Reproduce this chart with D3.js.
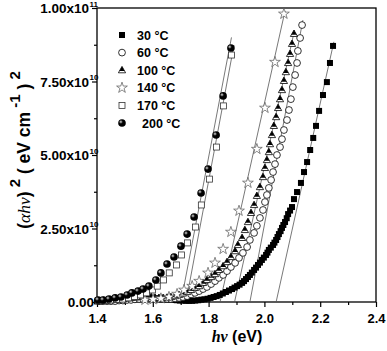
<!DOCTYPE html>
<html>
<head>
<meta charset="utf-8">
<script src="https://cdn.jsdelivr.net/npm/d3@7"></script>
<style>
  body { margin: 0; background: #fff; }
  text { font-family: "Liberation Sans", Arial, sans-serif; font-weight: bold; fill: #000; }
</style>
</head>
<body>
<div id="chart"></div>
<script>
// values, y in units of 1e10 (eV cm^-1)^2
var UNIT = 1e10

var hv30 = [1.400,1.411,1.422,1.433,1.444,1.455,1.466,1.477,1.488,1.499,1.510,1.521,1.532,1.543,1.554,1.565,1.576,1.587,1.598,1.609,1.620,1.631,1.642,1.653,1.664,1.675,1.686,1.697,1.708,1.719,1.730,1.741,1.752,1.763,1.774,1.785,1.796,1.807,1.818,1.829,1.840,1.851,1.862,1.873,1.884,1.893,1.902,1.911,1.920,1.927,1.934,1.941,1.948,1.955,1.963,1.970,1.977,1.984,1.991,1.998,2.006,2.011,2.016,2.023,2.031,2.036,2.042,2.047,2.052,2.058,2.063,2.068,2.074,2.080,2.085,2.092,2.099,2.106,2.117,2.131,2.142,2.153,2.164,2.175,2.185,2.196,2.210,2.224,2.235,2.246]
var a30  = [0.02,0.02,0.03,0.03,0.03,0.03,0.04,0.04,0.05,0.06,0.07,0.08,0.09,0.10,0.11,0.12,0.12,0.12,0.12,0.11,0.10,0.09,0.09,0.08,0.08,0.07,0.06,0.05,0.05,0.04,0.04,0.04,0.05,0.06,0.08,0.09,0.11,0.14,0.17,0.20,0.24,0.29,0.34,0.39,0.44,0.49,0.54,0.59,0.65,0.71,0.78,0.85,0.92,1.00,1.09,1.17,1.26,1.34,1.43,1.51,1.60,1.68,1.77,1.85,1.94,2.02,2.11,2.21,2.31,2.41,2.52,2.62,2.72,2.85,2.99,3.11,3.23,3.50,3.74,4.05,4.42,4.76,5.17,5.58,5.99,6.50,7.04,7.48,8.13,8.71]

var hv60 = [1.407,1.422,1.436,1.450,1.465,1.479,1.493,1.508,1.522,1.536,1.551,1.565,1.579,1.594,1.608,1.622,1.637,1.651,1.665,1.680,1.694,1.708,1.723,1.737,1.751,1.766,1.780,1.794,1.809,1.823,1.837,1.852,1.866,1.880,1.895,1.909,1.923,1.938,1.948,1.963,1.973,1.984,1.995,2.002,2.009,2.016,2.024,2.031,2.038,2.045,2.056,2.063,2.070,2.081,2.088,2.095,2.102,2.110,2.117,2.120,2.128,2.135]
var a60  = [0.03,0.03,0.03,0.03,0.03,0.05,0.05,0.07,0.07,0.09,0.10,0.10,0.12,0.12,0.12,0.12,0.10,0.10,0.10,0.12,0.14,0.17,0.20,0.26,0.31,0.37,0.44,0.51,0.61,0.71,0.82,0.92,1.05,1.19,1.33,1.50,1.67,1.87,2.11,2.35,2.59,2.86,3.13,3.40,3.64,3.88,4.15,4.42,4.69,5.00,5.27,5.54,5.85,6.19,6.53,6.90,7.31,7.72,8.13,8.54,8.98,9.42]

var hv100 = [1.407,1.422,1.436,1.450,1.465,1.479,1.493,1.508,1.522,1.536,1.551,1.565,1.579,1.594,1.608,1.622,1.637,1.651,1.665,1.680,1.694,1.708,1.723,1.737,1.751,1.766,1.780,1.794,1.809,1.823,1.837,1.852,1.866,1.880,1.895,1.905,1.920,1.930,1.941,1.952,1.963,1.973,1.984,1.995,2.002,2.009,2.016,2.020,2.027,2.034,2.042,2.049,2.056,2.063,2.070,2.077,2.085,2.092,2.099,2.106]
var a100  = [0.03,0.05,0.05,0.07,0.07,0.09,0.10,0.12,0.14,0.15,0.17,0.19,0.19,0.17,0.15,0.14,0.14,0.15,0.17,0.20,0.24,0.29,0.34,0.41,0.48,0.54,0.65,0.75,0.85,0.95,1.09,1.22,1.36,1.53,1.73,1.94,2.18,2.45,2.72,3.03,3.30,3.61,3.91,4.25,4.56,4.83,5.10,5.37,5.68,5.99,6.29,6.60,6.90,7.21,7.52,7.82,8.13,8.44,8.78,9.12]

var hv140 = [1.572,1.601,1.629,1.658,1.687,1.712,1.741,1.766,1.798,1.823,1.852,1.880,1.909,1.941,1.973,2.002,2.038,2.070]
var a140  = [0.07,0.09,0.12,0.17,0.27,0.41,0.54,0.71,0.99,1.33,1.80,2.38,3.10,4.05,5.20,6.60,8.16,9.80]

var hv170 = [1.404,1.425,1.448,1.470,1.491,1.513,1.534,1.556,1.577,1.599,1.616,1.638,1.659,1.685,1.703,1.724,1.753,1.774,1.803,1.828,1.853,1.882]
var a170  = [0.05,0.06,0.07,0.09,0.10,0.14,0.19,0.24,0.31,0.41,0.54,0.75,0.99,1.26,1.60,2.01,2.55,3.30,4.18,5.27,6.67,8.40]

var hv200 = [1.404,1.422,1.443,1.465,1.486,1.508,1.525,1.547,1.565,1.586,1.611,1.629,1.651,1.676,1.701,1.723,1.748,1.773,1.798,1.827,1.852,1.880]
var a200  = [0.07,0.07,0.10,0.14,0.17,0.24,0.31,0.37,0.44,0.54,0.75,0.99,1.29,1.53,1.90,2.31,2.89,3.71,4.52,5.68,7.01,8.64]

// linear fits: x-intercept and upper end
var fitX0 = [2.042, 1.948, 1.893, 1.841, 1.719, 1.701]
var fitX1 = [2.249, 2.138, 2.108, 2.074, 1.891, 1.882]
var fitY1 = [8.85, 9.59, 9.25, 9.90, 8.74, 9.00]

var seriesNames = ["30 °C", "60 °C", "100 °C", "140 °C", "170 °C", "200 °C"]
var markerTypes = ["fsquare", "ocircle", "htri", "ostar", "osquare", "sphere"]
var seriesX = [hv30, hv60, hv100, hv140, hv170, hv200]
var seriesY = [a30, a60, a100, a140, a170, a200]

var xMajor = [1.4, 1.6, 1.8, 2.0, 2.2, 2.4]
var xMinor = [1.5, 1.7, 1.9, 2.1, 2.3]
var yMajor = [0, 2.5e10, 5e10, 7.5e10, 1e11]
var yMinor = [1.25e10, 3.75e10, 6.25e10, 8.75e10]

var W = 387, H = 351
var svg = d3.select("#chart").append("svg")
    .attr("width", W)
    .attr("height", H)

var defs = svg.append("defs")
var grad = defs.append("radialGradient").attr("id", "ball")
    .attr("cx", "35%").attr("cy", "35%").attr("r", "65%")
grad.append("stop").attr("offset", "0%").attr("stop-color", "#eee")
grad.append("stop").attr("offset", "18%").attr("stop-color", "#777")
grad.append("stop").attr("offset", "40%").attr("stop-color", "#000")
grad.append("stop").attr("offset", "100%").attr("stop-color", "#000")

const x = d3.scaleLinear().domain([1.4, 2.4]).range([97, 376])
const y = d3.scaleLinear().domain([0, 1e11]).range([302, 8])

// frame
svg.append("rect")
    .attr("x", 97).attr("y", 8)
    .attr("width", 279).attr("height", 294)
    .attr("fill", "none").attr("stroke", "#000").attr("stroke-width", 1.3)

// x axis
var gx = svg.append("g").attr("transform", "translate(0,302)")
gx.call(d3.axisBottom(x).tickValues(xMajor).tickSize(5).tickFormat(d3.format(".1f")))
gx.append("g").call(d3.axisBottom(x).tickValues(xMinor).tickSize(3).tickFormat(""))
gx.selectAll(".domain").remove()
gx.selectAll("line").attr("stroke", "#000").attr("stroke-width", 1.2)
gx.selectAll("text")
    .attr("dy", "1.0em")
    .style("font-size", "13px")
    .style("font-family", "Liberation Sans, Arial, sans-serif")
    .style("font-weight", "bold")

// y axis
var gy = svg.append("g").attr("transform", "translate(97,0)")
gy.call(d3.axisLeft(y).tickValues(yMajor).tickSize(5).tickFormat(""))
gy.append("g").call(d3.axisLeft(y).tickValues(yMinor).tickSize(3).tickFormat(""))
gy.selectAll(".domain").remove()
gy.selectAll("line").attr("stroke", "#000").attr("stroke-width", 1.2)

yMajor.forEach(function (v) {
    var t = svg.append("text")
        .attr("y", y(v) + 5)
        .style("font-size", "13.5px")
    if (v == 0) {
        t.attr("x", 94).attr("text-anchor", "end").text("0.00")
    } else {
        var exp = Math.floor(Math.log10(v))
        var mant = (v / Math.pow(10, exp)).toFixed(2)
        t.attr("x", 89).attr("text-anchor", "end").text(mant + "x10")
        svg.append("text")
            .attr("x", 89.5).attr("y", y(v) - 1.5)
            .style("font-size", "8px")
            .text(exp)
    }
})

// axis titles
var xt = svg.append("text")
    .attr("x", 237).attr("y", 342)
    .attr("text-anchor", "middle")
    .style("font-size", "16px")
xt.append("tspan").style("font-style", "italic").style("font-family", "Liberation Serif, serif").text("hν")
xt.append("tspan").text(" (eV)")

var yt = svg.append("text")
    .attr("transform", "translate(30,150) rotate(-90)")
    .attr("text-anchor", "middle")
    .style("font-size", "17.5px")
yt.append("tspan").text("(")
yt.append("tspan").style("font-style", "italic").style("font-family", "Liberation Serif, serif").style("font-weight", "normal").text("αhν")
yt.append("tspan").text(")")
yt.append("tspan").attr("dy", -10).style("font-size", "15px").text(" 2")
yt.append("tspan").attr("dy", 10).text(" ( eV cm")
yt.append("tspan").attr("dy", -10).style("font-size", "15px").text(" -1")
yt.append("tspan").attr("dy", 10).text(" )")
yt.append("tspan").attr("dy", -10).style("font-size", "15px").text(" 2")

// fit lines
var fits = svg.append("g")
fitX0.forEach(function (x0, i) {
    fits.append("line")
        .attr("x1", x(x0)).attr("y1", y(0))
        .attr("x2", x(fitX1[i])).attr("y2", y(fitY1[i] * UNIT))
        .attr("stroke", "#555").attr("stroke-width", 0.8)
})

function marker(g, type, cx, cy) {
    if (type == "fsquare") {
        g.append("rect").attr("x", cx - 3).attr("y", cy - 3).attr("width", 6).attr("height", 6).attr("fill", "#000")
    } else if (type == "ocircle") {
        g.append("circle").attr("cx", cx).attr("cy", cy).attr("r", 3.4)
            .attr("fill", "#fff").attr("stroke", "#000").attr("stroke-width", 0.8)
    } else if (type == "htri") {
        g.append("path").attr("d", `M${cx},${cy - 3.8}L${cx + 3.6},${cy + 2.6}L${cx - 3.6},${cy + 2.6}Z`)
            .attr("fill", "#fff").attr("stroke", "#000").attr("stroke-width", 0.8)
        g.append("path").attr("d", `M${cx},${cy - 3.8}L${cx + 2.6},${cy + 0.8}L${cx - 2.6},${cy + 0.8}Z`)
            .attr("fill", "#000")
    } else if (type == "ostar") {
        g.append("path").attr("d", d3.symbol(d3.symbolStar, 36)())
            .attr("transform", `translate(${cx},${cy})`)
            .attr("fill", "#fff").attr("stroke", "#555").attr("stroke-width", 0.7)
    } else if (type == "osquare") {
        g.append("rect").attr("x", cx - 3).attr("y", cy - 3).attr("width", 6).attr("height", 6)
            .attr("fill", "#fff").attr("stroke", "#333").attr("stroke-width", 0.8)
    } else if (type == "sphere") {
        g.append("circle").attr("cx", cx).attr("cy", cy).attr("r", 3.8).attr("fill", "url(#ball)")
    }
}

// data markers
seriesX.forEach(function (xs, i) {
    var g = svg.append("g")
    xs.forEach(function (hv, j) {
        marker(g, markerTypes[i], x(hv), y(seriesY[i][j] * UNIT))
    })
})

// legend
var leg = svg.append("g")
seriesNames.forEach(function (name, i) {
    var ly = 35 + i * 17.6
    marker(leg, markerTypes[i], 122, ly)
    leg.append("text")
        .attr("x", i == 5 ? 142 : 137).attr("y", ly + 4.5)
        .style("font-size", "12.5px")
        .text(name)
})
</script>
</body>
</html>
